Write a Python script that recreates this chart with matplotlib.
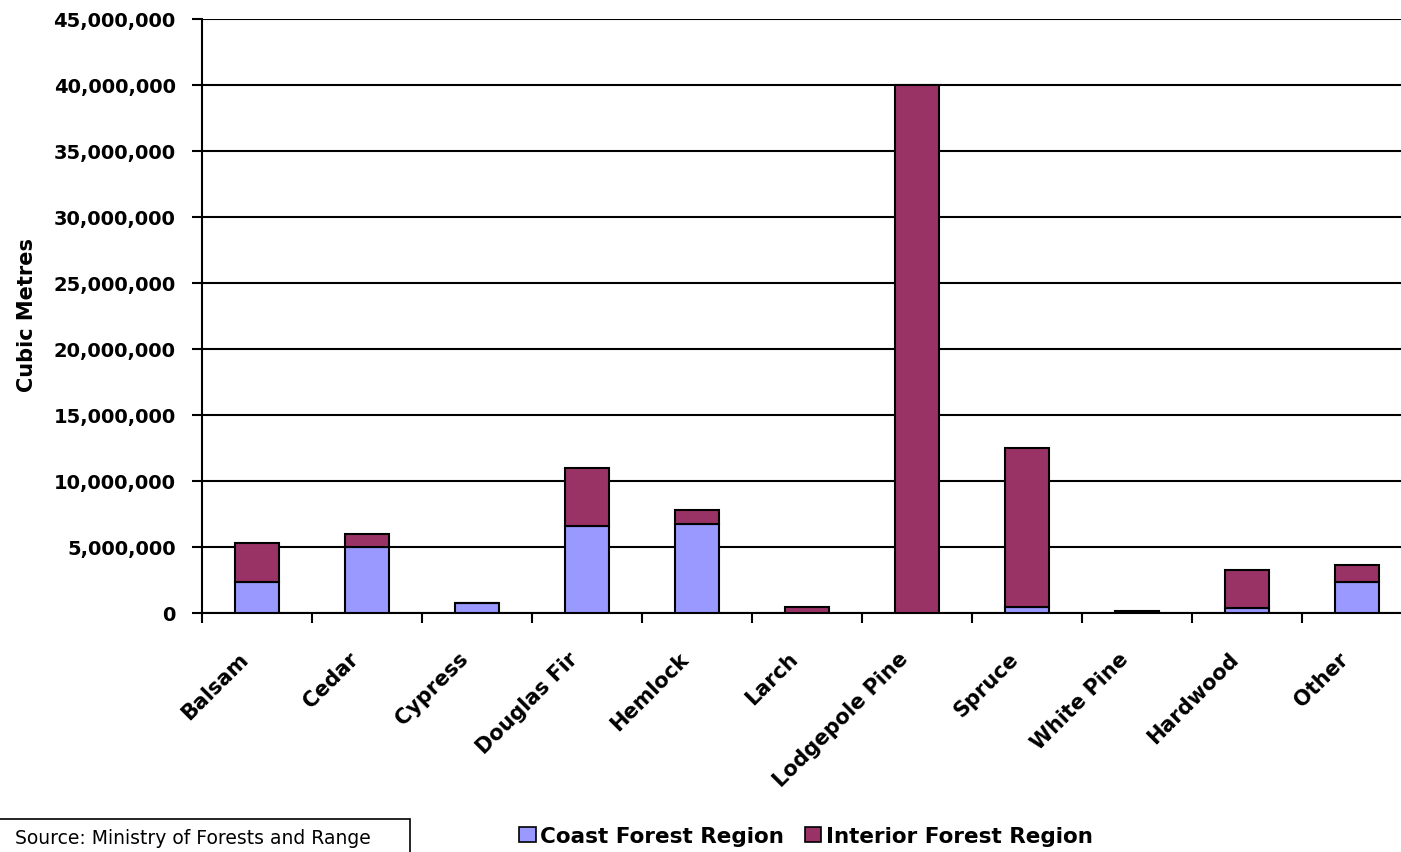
import matplotlib
matplotlib.use("Agg")
import matplotlib.pyplot as plt
import matplotlib.patches as mpatches
from matplotlib.ticker import FuncFormatter, FixedLocator
from matplotlib.transforms import ScaledTranslation
import numpy as np

categories = ["Balsam", "Cedar", "Cypress", "Douglas Fir", "Hemlock", "Larch",
              "Lodgepole Pine", "Spruce", "White Pine", "Hardwood", "Other"]
coast = [2350000, 5000000, 750000, 6600000, 6750000, 20000, 30000, 430000, 50000, 400000, 2350000]
interior = [2950000, 1000000, 0, 4400000, 1050000, 430000, 39970000, 12070000, 100000, 2850000, 1250000]
yticks = list(range(0, 45000001, 5000000))

plt.rcParams['font.family'] = ['DejaVu Sans']

fig = plt.figure(figsize=(14.01, 8.53), dpi=100)
ax = fig.add_axes([202/1401, 1-614/853, 1210/1401, 594/853])

x = np.arange(len(categories))
w = 0.40
c_coast = "#9999FF"
c_int = "#993366"
ax.bar(x, coast, width=w, color=c_coast, edgecolor="black", linewidth=1.5, zorder=3)
ax.bar(x, interior, width=w, bottom=coast, color=c_int, edgecolor="black", linewidth=1.5, zorder=3)

ax.set_xlim(-0.5, len(categories) - 0.5)
ax.set_ylim(0, 45000000)
ax.set_yticks(yticks)
ax.yaxis.set_major_formatter(FuncFormatter(lambda v, p: f"{int(v):,}"))
ax.grid(axis="y", color="black", linewidth=1.5, zorder=0)
for s in ["top", "right"]:
    ax.spines[s].set_visible(False)
for s in ["left", "bottom"]:
    ax.spines[s].set_linewidth(1.5)

# category labels, rotated
ax.set_xticks(x)
ax.set_xticklabels([])
ax.tick_params(axis="x", length=0)
offset = ScaledTranslation(-12/100, -42/100, fig.dpi_scale_trans)
for xi, name in zip(x, categories):
    ax.text(xi, 0, name, transform=ax.get_xaxis_transform() + offset,
            rotation=45, ha="right", va="center", rotation_mode="anchor",
            fontsize=15, fontweight="bold", clip_on=False)
ax.xaxis.set_minor_locator(FixedLocator(np.arange(-0.5, len(categories), 1.0)))
ax.tick_params(axis="x", which="minor", length=7, width=1.5)
ax.tick_params(axis="y", length=7, width=1.5, labelsize=14, pad=12)
for lbl in ax.get_yticklabels():
    lbl.set_fontweight("bold")
ax.set_ylabel("Cubic Metres", fontsize=15, fontweight="bold")
ax.yaxis.set_label_coords((37-202)/1210, 0.503)

handles = [mpatches.Patch(facecolor=c_coast, edgecolor="black", linewidth=1.2, label="Coast Forest Region"),
           mpatches.Patch(facecolor=c_int, edgecolor="black", linewidth=1.2, label="Interior Forest Region")]
fig.legend(handles=handles, loc="center", bbox_to_anchor=(806/1401, 1-837/853), ncol=2,
           frameon=False, handlelength=0.75, handleheight=0.75, handletextpad=0.2, columnspacing=1.0,
           borderpad=0, prop={"size": 15.5, "weight": "bold"})

rect = mpatches.Rectangle((-0.01, -0.02), 0.01 + 410/1401, 0.02 + 1-820/853, transform=fig.transFigure,
                          facecolor="white", edgecolor="black", linewidth=1.2)
fig.patches.append(rect)
fig.text(15/1401, 1-839/853, "Source: Ministry of Forests and Range", fontsize=13.5, va="center", ha="left")

fig.savefig("out.png", dpi=100)
